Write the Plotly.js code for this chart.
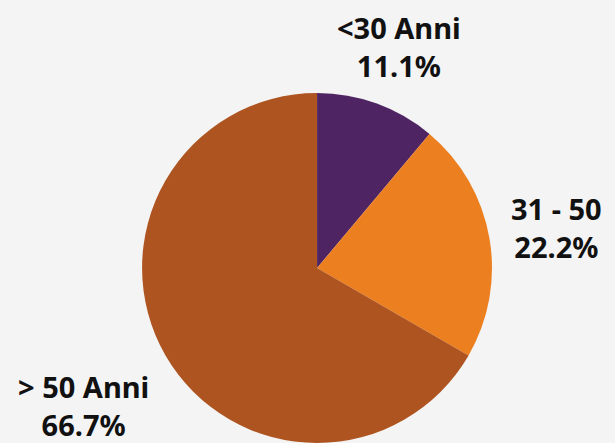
<!DOCTYPE html>
<html>
<head>
<meta charset="utf-8">
<script src="https://cdn.plot.ly/plotly-3.0.1.min.js"></script>
<style>html,body{margin:0;padding:0;background:#f4f4f4;}#chart{width:615px;height:443px;}</style>
</head>
<body>
<div id="chart"></div>
<script>
const categories = ["<30 Anni", "31 - 50", "> 50 Anni"];
const values = [1, 2, 6];
const colors = ["#4e2462", "#ec7f1f", "#ae5420"];

const W = 615, H = 443;
// label anchor points in pixels (layout only)
const labelPos = [[399, 46], [556, 227], [83, 405]];

const total = values.reduce((a, b) => a + b, 0);

const trace = {
  type: "pie",
  labels: categories,
  values: values,
  sort: false,
  direction: "clockwise",
  rotation: 0,
  marker: {colors: colors, line: {width: 0}},
  textinfo: "none",
  hoverinfo: "none",
  domain: {x: [0.231, 0.8], y: [0.0, 0.79]},
  showlegend: false
};

const annotations = categories.map((c, i) => ({
  text: c + "<br>" + (values[i] / total * 100).toFixed(1) + "%",
  xref: "paper", yref: "paper",
  x: labelPos[i][0] / W, y: 1 - labelPos[i][1] / H,
  xanchor: "center", yanchor: "middle",
  align: "center",
  showarrow: false,
  font: {family: "Noto Sans, sans-serif", size: 29, color: "#111111", weight: "bold"}
}));

const layout = {
  width: W,
  height: H,
  margin: {l: 0, r: 0, t: 0, b: 0},
  paper_bgcolor: "#f4f4f4",
  plot_bgcolor: "#f4f4f4",
  font: {family: "Noto Sans, sans-serif", weight: "bold"},
  annotations: annotations,
  showlegend: false
};

Plotly.newPlot("chart", [trace], layout, {staticPlot: true, displayModeBar: false});
</script>
</body>
</html>
